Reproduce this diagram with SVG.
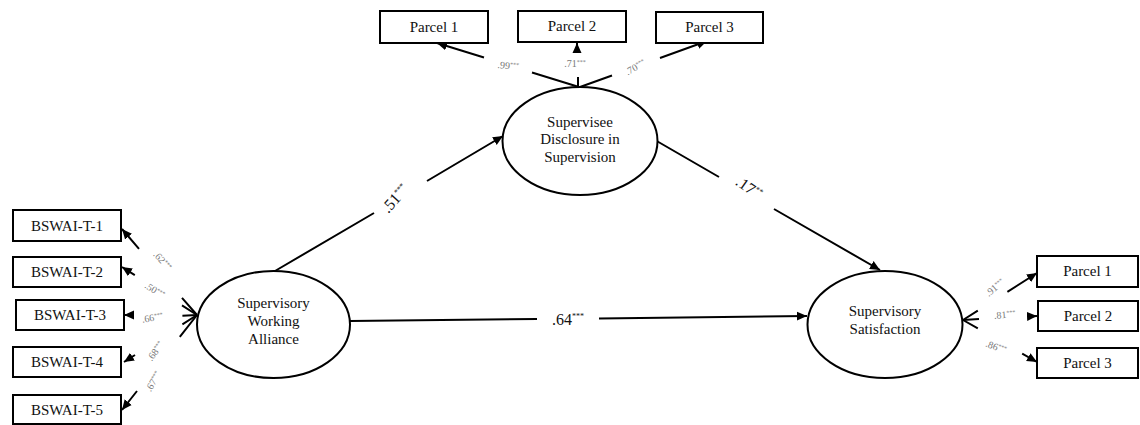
<svg xmlns="http://www.w3.org/2000/svg" width="1140" height="425" viewBox="0 0 1140 425" font-family="'Liberation Serif', 'Times New Roman', 'DejaVu Serif', serif">
<style>
.box{fill:#fff;stroke:#000;stroke-width:2}
.ell{fill:#fff;stroke:#000;stroke-width:2}
.t{font-size:15px;fill:#111;text-anchor:middle}
.ln{fill:none;stroke:#000;stroke-width:2}
.ld{font-size:10px;fill:#777;text-anchor:middle}
.cf{font-size:16px;fill:#111;text-anchor:middle}
.sup{font-size:8px}
.sups{font-size:6px}
</style>
<defs>
<marker id="ah" markerUnits="userSpaceOnUse" markerWidth="10" markerHeight="10" viewBox="0 0 10 10" refX="10" refY="5" orient="auto">
<path d="M0,0.5 L10,5 L0,9.5 Z" fill="#000"/>
</marker>
</defs>
<rect width="1140" height="425" fill="#fff"/>
<g id="connectors">
<path class="ln" d="M275,271 L374,213 M427,181 L503,136" marker-end="url(#ah)"/>
<path class="ln" d="M655,140 L719,177 M774,209 L880,270" marker-end="url(#ah)"/>
<path class="ln" d="M350,321 L537,319 M599,318.5 L807,316" marker-end="url(#ah)"/>
<path class="ln" d="M579,87 L532,72.5 M484,57.5 L437,43" marker-end="url(#ah)"/>
<path class="ln" d="M578,87 L578,77 M577,51 L577,43" marker-end="url(#ah)"/>
<path class="ln" d="M580,87 L612,75.5 M660,58 L707,41" marker-end="url(#ah)"/>
<path class="ln" d="M197,315 L182,297.8 M139,248.8 L122,229" marker-end="url(#ah)"/>
<path class="ln" d="M197,315 L182,305.4 M134.8,275.2 L122,267" marker-end="url(#ah)"/>
<path class="ln" d="M197,315 L182.4,315.8 M132,315 L124,315" marker-end="url(#ah)"/>
<path class="ln" d="M197,315 L182.4,324.4 M135,355 L124,362" marker-end="url(#ah)"/>
<path class="ln" d="M197,315 L179.8,336.9 M137,391 L122,410" marker-end="url(#ah)"/>
<path class="ln" d="M963,320 L977.8,310.6 M1007.4,291.8 L1037,273" marker-end="url(#ah)"/>
<path class="ln" d="M963,320 L979,319 M1029,316.4 L1037,316" marker-end="url(#ah)"/>
<path class="ln" d="M963,320 L977.8,328.4 M1022.2,353.6 L1037,362" marker-end="url(#ah)"/>
</g>
<g id="labels">
<text class="cf" transform="translate(399,202) rotate(-48)">.51<tspan class="sup" dy="-6">***</tspan></text>
<text class="cf" transform="translate(746,192) rotate(35)">.17<tspan class="sup" dy="-6">**</tspan></text>
<text class="cf" x="568" y="325">.64<tspan class="sup" dy="-6">***</tspan></text>
<text class="ld" transform="translate(508,69) rotate(5)">.99<tspan class="sups" dy="-3">***</tspan></text>
<text class="ld" x="575" y="67">.71<tspan class="sups" dy="-3">***</tspan></text>
<text class="ld" transform="translate(637,70) rotate(-30)">.70<tspan class="sups" dy="-3">***</tspan></text>
<text class="ld" transform="translate(160,263) rotate(48)">.62<tspan class="sups" dy="-3">***</tspan></text>
<text class="ld" transform="translate(153,293) rotate(32)">.50<tspan class="sups" dy="-3">***</tspan></text>
<text class="ld" transform="translate(153,321) rotate(-10)">.66<tspan class="sups" dy="-3">***</tspan></text>
<text class="ld" transform="translate(158,353) rotate(-55)">.68<tspan class="sups" dy="-3">***</tspan></text>
<text class="ld" transform="translate(156,383) rotate(-60)">.67<tspan class="sups" dy="-3">***</tspan></text>
<text class="ld" transform="translate(997,290) rotate(-40)">.91<tspan class="sups" dy="-3">***</tspan></text>
<text class="ld" transform="translate(1005,318) rotate(-5)">.81<tspan class="sups" dy="-3">***</tspan></text>
<text class="ld" transform="translate(995,350) rotate(20)">.86<tspan class="sups" dy="-3">***</tspan></text>
</g>
<g id="swa">
<ellipse class="ell" cx="273.5" cy="324.5" rx="76.5" ry="53.5"/>
<text class="t" x="273.5" y="308">Supervisory</text>
<text class="t" x="273.5" y="326">Working</text>
<text class="t" x="273.5" y="344">Alliance</text>
</g>
<g id="sds">
<ellipse class="ell" cx="580" cy="141" rx="77.5" ry="54"/>
<text class="t" x="580" y="127">Supervisee</text>
<text class="t" x="580" y="144">Disclosure in</text>
<text class="t" x="580" y="162">Supervision</text>
</g>
<g id="ss">
<ellipse class="ell" cx="885" cy="324.5" rx="77.5" ry="53.5"/>
<text class="t" x="885" y="316">Supervisory</text>
<text class="t" x="885" y="334">Satisfaction</text>
</g>
<g id="bswai1"><rect class="box" x="13" y="210" width="108" height="31"/><text class="t" x="67" y="231">BSWAI-T-1</text></g>
<g id="bswai2"><rect class="box" x="13" y="257" width="108" height="30"/><text class="t" x="67" y="277">BSWAI-T-2</text></g>
<g id="bswai3"><rect class="box" x="16" y="300" width="108" height="30"/><text class="t" x="70" y="320">BSWAI-T-3</text></g>
<g id="bswai4"><rect class="box" x="13" y="347" width="108" height="30"/><text class="t" x="67" y="367">BSWAI-T-4</text></g>
<g id="bswai5"><rect class="box" x="13" y="395" width="108" height="29"/><text class="t" x="67" y="415">BSWAI-T-5</text></g>
<g id="top-parcel1"><rect class="box" x="380" y="11" width="108" height="32"/><text class="t" x="434" y="32">Parcel 1</text></g>
<g id="top-parcel2"><rect class="box" x="518" y="11" width="108" height="31"/><text class="t" x="572" y="31">Parcel 2</text></g>
<g id="top-parcel3"><rect class="box" x="656" y="12" width="107" height="31"/><text class="t" x="709.5" y="32">Parcel 3</text></g>
<g id="right-parcel1"><rect class="box" x="1037" y="256" width="101" height="31"/><text class="t" x="1087.5" y="276">Parcel 1</text></g>
<g id="right-parcel2"><rect class="box" x="1038" y="301" width="100" height="30"/><text class="t" x="1088" y="321">Parcel 2</text></g>
<g id="right-parcel3"><rect class="box" x="1037" y="348" width="101" height="30"/><text class="t" x="1087.5" y="368">Parcel 3</text></g>
</svg>
